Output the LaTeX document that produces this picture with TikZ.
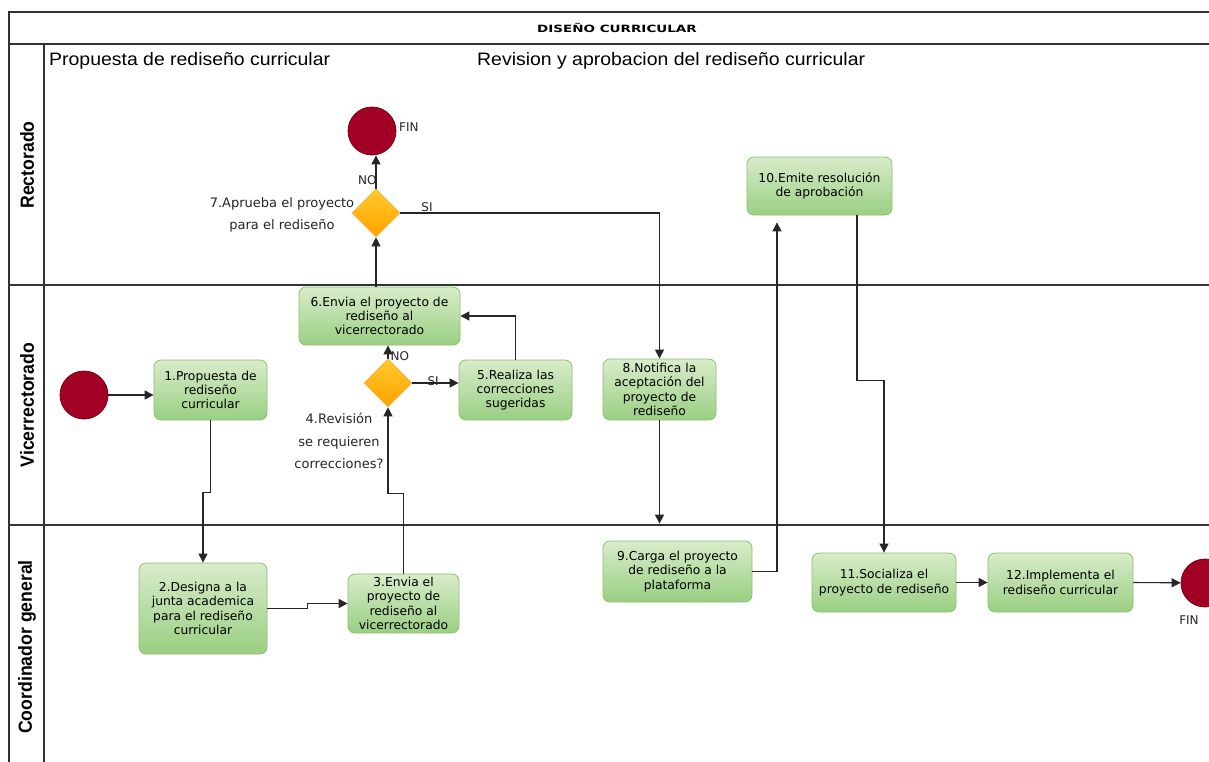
\documentclass[tikz,border=0pt]{standalone}
\usepackage{fontspec}
\setmainfont{Liberation Sans}
\newfontfamily\taskfont{DejaVu Sans}
\usetikzlibrary{shapes.geometric,arrows.meta}
\definecolor{taskedge}{HTML}{8CC070}
\definecolor{tasktop}{HTML}{D8ECCA}
\definecolor{taskbot}{HTML}{9ACF82}
\definecolor{decA}{HTML}{FFCA2A}
\definecolor{decB}{HTML}{FFA200}
\definecolor{decedge}{HTML}{F2B84A}
\definecolor{evfill}{HTML}{A20025}
\definecolor{evedge}{HTML}{7A0010}
\definecolor{laneline}{HTML}{333333}
\begin{document}
\begin{tikzpicture}[x=1pt,y=-1pt,
  lane/.style={draw=laneline,line width=1.2pt},
  taskbox/.style={rectangle,rounded corners=7pt,draw=taskedge,line width=0.8pt,
    top color=tasktop,bottom color=taskbot,align=center,inner sep=0pt,
    font=\taskfont\fontsize{12.3}{14.3}\selectfont},
  decbox/.style={diamond,draw=decedge,line width=0.6pt,top color=decA,bottom color=decB,
    minimum width=48pt,minimum height=48pt,inner sep=0pt},
  evnode/.style={circle,fill=evfill,draw=evedge,line width=0.8pt,minimum size=48pt,inner sep=0pt},
  flow/.style={draw=black!85,line width=1.1pt,-{Triangle[length=9pt,width=9pt]}},
  lbl/.style={font=\taskfont\fontsize{13}{22.5}\selectfont,align=center,text=black!85},
  small/.style={font=\taskfont\fontsize{12}{13}\selectfont,text=black!85,inner sep=0pt},
  lanelbl/.style={font=\bfseries\fontsize{19}{20}\selectfont,rotate=90},
  phase/.style={font=\fontsize{18}{20}\selectfont,anchor=west,inner sep=0pt}
]
\useasboundingbox (0,0) rectangle (1209,761);
\clip (0,0) rectangle (1209,761);
\fill[white] (0,0) rectangle (1209,761);

% frame and lanes
\draw[lane] (1215,12) -- (9,12) -- (9,770);
\draw[lane] (9,44) -- (1215,44);
\draw[lane] (44,44) -- (44,770);
\draw[lane] (9,285) -- (1215,285);
\draw[lane] (9,525) -- (1215,525);

\node[font=\taskfont\bfseries\fontsize{10}{12}\selectfont] (title) at (617,28) {\scalebox{1.35}[1]{DISEÑO CURRICULAR}};
\node[lanelbl] (l1) at (27,165) {\scalebox{0.93}[1]{Rectorado}};
\node[lanelbl] (l2) at (27,405) {\scalebox{0.93}[1]{Vicerrectorado}};
\node[lanelbl] (l3) at (27,647) {\scalebox{0.93}[1]{Coordinador general}};
\node[phase] (p1) at (49,61) {\scalebox{1.08}[1]{Propuesta de rediseño curricular}};
\node[phase] (p2) at (477,61) {\scalebox{1.08}[1]{Revision y aprobacion del rediseño curricular}};

% events
\node[evnode] (fin1) at (372,131) {};
\node[small,anchor=west] (fin1l) at (399,127) {FIN};
\node[evnode] (start) at (84,395) {};
\node[evnode] (fin2) at (1205,583) {};
\node[small] (fin2l) at (1189,620) {FIN};

% decisions
\node[decbox] (d7) at (376,213) {};
\node[lbl] (d7l) at (282,215) {7.Aprueba el proyecto\\para el rediseño};
\node[decbox] (d4) at (388,383) {};
\node[lbl] (d4l) at (339,441) {4.Revisión\\se requieren\\correcciones?};

% tasks
\node[taskbox,minimum width=113pt,minimum height=60pt] (t1) at (210.5,390) {1.Propuesta de\\rediseño\\curricular};
\node[taskbox,minimum width=128pt,minimum height=91pt] (t2) at (203,608.5) {2.Designa a la\\junta academica\\para el rediseño\\curricular};
\node[taskbox,minimum width=111pt,minimum height=59pt] (t3) at (403.5,603.5) {3.Envia el\\proyecto de\\rediseño al\\vicerrectorado};
\node[taskbox,minimum width=113pt,minimum height=60pt] (t5) at (515.5,390) {5.Realiza las\\correcciones\\sugeridas};
\node[taskbox,minimum width=161pt,minimum height=58pt] (t6) at (379.5,316) {6.Envia el proyecto de\\rediseño al\\vicerrectorado};
\node[taskbox,minimum width=113pt,minimum height=61pt] (t8) at (659.5,389.5) {8.Notifica la\\aceptación del\\proyecto de\\rediseño};
\node[taskbox,minimum width=149pt,minimum height=61pt] (t9) at (677.5,571.5) {9.Carga el proyecto\\de rediseño a la\\plataforma};
\node[taskbox,minimum width=145pt,minimum height=58pt] (t10) at (819.5,186) {10.Emite resolución\\de aprobación};
\node[taskbox,minimum width=144pt,minimum height=59pt] (t11) at (884,582.5) {11.Socializa el\\proyecto de rediseño};
\node[taskbox,minimum width=145pt,minimum height=59pt] (t12) at (1060.5,582.5) {12.Implementa el\\rediseño curricular};

% connectors
\draw[flow] (start) -- (start -| t1.west);
\draw[flow] (t1.south) -- ++(0,72) -| (t2.north);
\draw[flow] (t2.east) -- ++(40,0) |- (t3.west);
\draw[flow] (t3.north) -- ++(0,-80) -| (d4.south);
\draw[flow] (d4.north) -- (d4.north |- t6.south) node[small,pos=0.2,anchor=west,xshift=2pt] (no4) {NO};
\draw[flow] (d4.east) -- (d4.east -| t5.west) node[small,pos=0.45,anchor=south,yshift=-3pt] (si4) {SI};
\draw[flow] (t5.north) |- (t6.east);
\draw[flow] (t6.north -| d7.south) -- (d7.south);
\draw[flow] (d7.north) -- (d7.north |- fin1.south) node[small,pos=0.25,anchor=east,xshift=1pt] (no7) {NO};
\draw[flow] (d7.east) -| (t8.north);
\node[small] (si7) at (427,207) {SI};
\draw[flow,shorten >=17pt] (t8.south) -- (t8.south |- t9.north);
\draw[flow,shorten >=7pt] (t9.east) -| ([xshift=-42.5pt]t10.south);
\draw[flow] ([xshift=37.5pt]t10.south) -- ++(0,165) -| (t11.north);
\draw[flow] (t11.east) -- (t12.west);
\draw[flow] (t12.east) -- (fin2);
\end{tikzpicture}
\end{document}
